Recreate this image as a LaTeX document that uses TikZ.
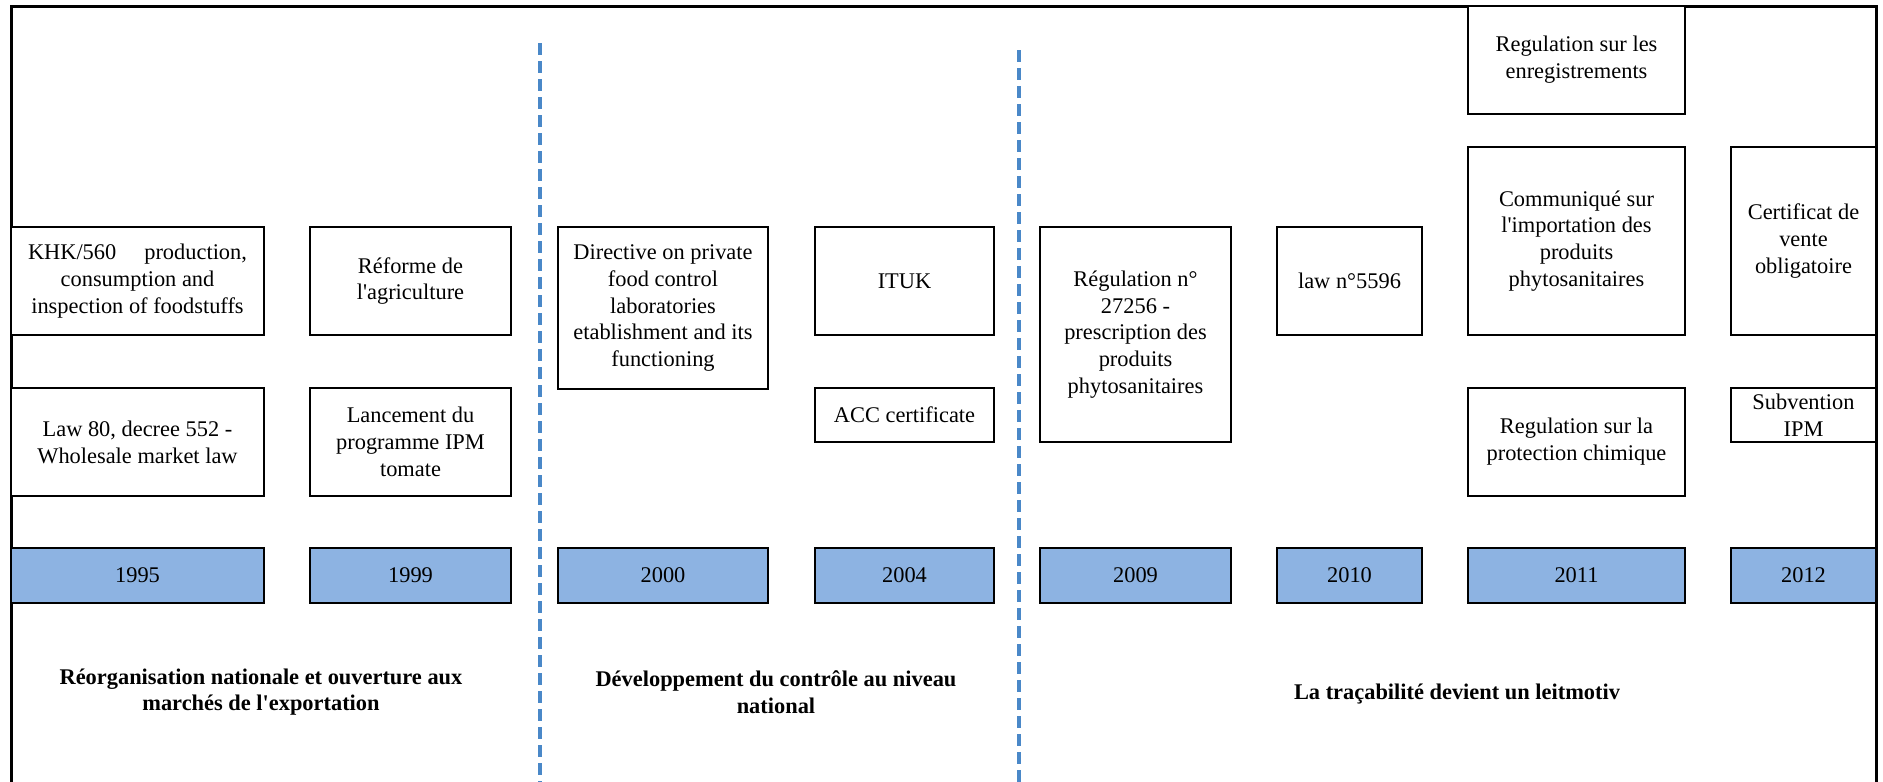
\documentclass[tikz,border=0pt]{standalone}
\usepackage{fontspec}
\setmainfont{Liberation Serif}
\newfontfamily\plainserif{Liberation Serif}
\definecolor{yearfill}{RGB}{141,179,226}
\definecolor{dashblue}{RGB}{74,136,200}
\tikzset{
  txt/.style={font=\plainserif\fontsize{22.4}{26.8}\selectfont},
  box/.style={txt, draw=black, line width=2.2pt, fill=white, inner sep=0pt, align=center},
  yearbox/.style={txt, draw=black, line width=2.4pt, fill=yearfill, inner sep=0pt},
  period/.style={font=\plainserif\fontsize{22.4}{26.8}\selectfont\bfseries, align=center},
  divider/.style={draw=dashblue, line width=4pt, dash pattern=on 12pt off 6pt},
  frame/.style={draw=black, line width=3pt}
}
\newcommand\bx[7][box]{\node[#1, minimum width={#5-#3}, minimum height={#6-#4}] (#2) at ({(#3+#5)/2},{(#4+#6)/2}) {#7};}
\begin{document}
\begin{tikzpicture}[x=1pt,y=-1pt]
\useasboundingbox (0,0) rectangle (1883,782);
% frame (open at the bottom)
\coordinate (fbl) at (11,782);
\coordinate (ftl) at (11,6);
\coordinate (ftr) at (1876,6);
\coordinate (fbr) at (1876,782);
\draw[frame] (fbl) -- (ftl) -- (ftr) -- (fbr);
% dividers
\coordinate (d1t) at (540,43);
\coordinate (d1b) at (540,782);
\coordinate (d2t) at (1019,50);
\coordinate (d2b) at (1019,782);
\draw[divider] (d1t) -- (d1b);
\draw[divider] (d2t) -- (d2b);
% event boxes
\bx{khk}{11}{227}{264}{335}{\makebox[219pt][s]{KHK/560 production,}\\consumption and\\inspection of foodstuffs}
\bx{law80}{11}{388}{264}{496}{Law 80, decree 552 -\\Wholesale market law}
\bx{reforme}{310}{227}{511}{335}{Réforme de\\l'agriculture}
\bx{ipm}{310}{388}{511}{496}{Lancement du\\programme IPM\\tomate}
\bx{directive}{558}{227}{768}{389}{Directive on private\\food control\\laboratories\\etablishment and its\\functioning}
\bx{ituk}{815}{227}{994}{335}{ITUK}
\bx{acc}{815}{388}{994}{442}{ACC certificate}
\bx{reg27256}{1040}{227}{1231}{442}{Régulation n°\\27256 -\\prescription des\\produits\\phytosanitaires}
\bx{law5596}{1277}{227}{1422}{335}{law n°5596}
\bx{enreg}{1468}{6}{1685}{114}{Regulation sur les\\enregistrements}
\bx{communique}{1468}{147}{1685}{335}{Communiqué sur\\l'importation des\\produits\\phytosanitaires}
\bx{protection}{1468}{388}{1685}{496}{Regulation sur la\\protection chimique}
\bx{certificat}{1731}{147}{1876}{335}{Certificat de\\vente\\obligatoire}
\bx{subvention}{1731}{388}{1876}{442}{\fontsize{22.4}{25}\selectfont Subvention\\IPM}
% year boxes
\bx[yearbox]{y1995}{11}{548}{264}{603}{1995}
\bx[yearbox]{y1999}{310}{548}{511}{603}{1999}
\bx[yearbox]{y2000}{558}{548}{768}{603}{2000}
\bx[yearbox]{y2004}{815}{548}{994}{603}{2004}
\bx[yearbox]{y2009}{1040}{548}{1231}{603}{2009}
\bx[yearbox]{y2010}{1277}{548}{1422}{603}{2010}
\bx[yearbox]{y2011}{1468}{548}{1685}{603}{2011}
\bx[yearbox]{y2012}{1731}{548}{1876}{603}{2012}
% period labels
\node[period] (p1) at (261,692) {Réorganisation nationale et ouverture aux\\marchés de l'exportation};
\node[period] (p2) at (776,692) {Développement du contrôle au niveau\\national};
\node[period] (p3) at (1457,694) {La traçabilité devient un leitmotiv};
\end{tikzpicture}
\end{document}
